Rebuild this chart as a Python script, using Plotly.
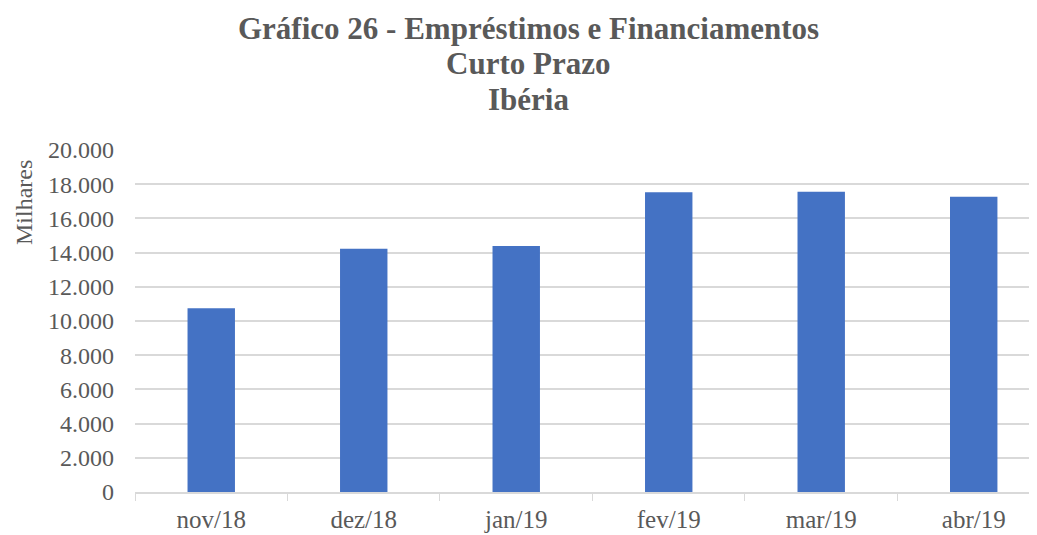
import plotly.graph_objects as go

categories = ["nov/18", "dez/18", "jan/19", "fev/19", "mar/19", "abr/19"]
values = [10750, 14230, 14390, 17530, 17560, 17270]
y_ticks = [0, 2000, 4000, 6000, 8000, 10000, 12000, 14000, 16000, 18000, 20000]

title_lines = ["Gráfico 26 - Empréstimos e Financiamentos", "Curto Prazo", "Ibéria"]
y_title = "Milhares"

FONT = "Liberation Serif"
TXT = "#595959"
GRID = "#d9d9d9"

# page body has an 8px margin: figure spans x 8..1037, y 8..535 in the window
W, H = 1029, 527
ML, MR, MT, MB = 127, 0, 142, 43
PW = W - ML - MR
PH = H - MT - MB


def px_to_paper_x(px):
    return (px - 8 - ML) / PW


def px_to_paper_y(py):
    return (H + 8 - MB - py) / PH


fig = go.Figure()
fig.add_trace(go.Bar(x=categories, y=values, marker=dict(color="#4472c4", line=dict(width=0))))

fig.update_layout(
    width=W, height=H,
    margin=dict(l=ML, r=MR, t=MT, b=MB),
    paper_bgcolor="white", plot_bgcolor="white",
    separators=",.",
    bargap=0.689,
    showlegend=False,
    font=dict(family=FONT, color=TXT, size=24),
)
# the reference chart is cropped on the right: the last category runs past the edge
fig.update_xaxes(
    range=[-0.5, 5.415],
    showline=True, linecolor=GRID, linewidth=1.5,
    ticks="outside", tickson="boundaries", ticklen=7, tickcolor=GRID,
    showgrid=False, tickfont=dict(size=25, color=TXT), ticklabelstandoff=4,
)
fig.update_yaxes(
    range=[0, 20000], tickvals=y_ticks, tickformat=",d",
    showgrid=True, gridcolor=GRID, gridwidth=1.5,
    zeroline=False, showline=False, ticks="", ticklen=0,
    tickfont=dict(size=24, color=TXT), ticklabelstandoff=20,
)
fig.add_annotation(
    text=y_title, textangle=-90, xref="paper", yref="paper",
    x=px_to_paper_x(24), y=px_to_paper_y(203), xanchor="center", yanchor="middle",
    showarrow=False, font=dict(family=FONT, size=24, color=TXT),
)
for line, cy in zip(title_lines, [29, 63, 99]):
    fig.add_annotation(
        text="<b>" + line + "</b>", xref="paper", yref="paper",
        x=px_to_paper_x(528), y=px_to_paper_y(cy), xanchor="center", yanchor="middle",
        showarrow=False, font=dict(family=FONT, size=31, color=TXT),
    )

fig.write_html("out.html")
